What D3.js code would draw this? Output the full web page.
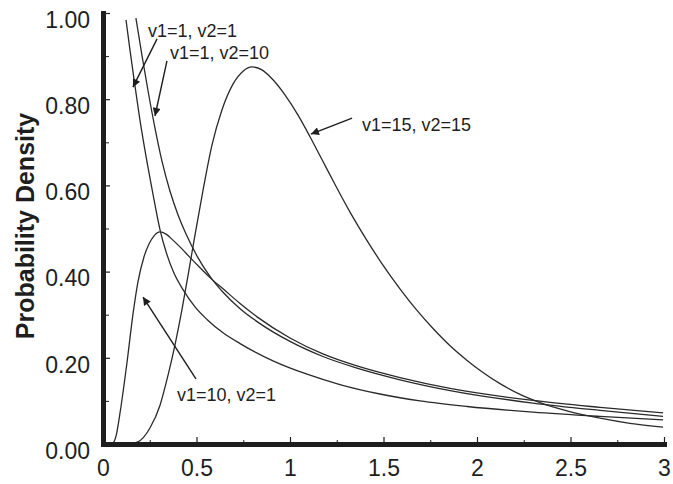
<!DOCTYPE html>
<html>
<head>
<meta charset="utf-8">
<script src="https://cdn.jsdelivr.net/npm/d3@7"></script>
<style>
  html, body { margin: 0; padding: 0; background: #fff; }
  svg { display: block; font-family: "Liberation Sans", Arial, Helvetica, sans-serif; }
</style>
</head>
<body>
<svg id="chart" width="673" height="484"></svg>
<script>
// ---- Data ----
const xTicks = [0, 0.5, 1, 1.5, 2, 2.5, 3];
const xMinorTicks = [0.25, 0.75, 1.25, 1.75, 2.25, 2.75];
const yTicks = [0, 0.2, 0.4, 0.6, 0.8, 1.0];
const yMinorTicks = [0.1, 0.3, 0.5, 0.7, 0.9];
const yTitle = "Probability Density";

// v1=1, v2=1
const seriesA_x = [0.123,0.144,0.166,0.193,0.225,0.262,0.305,0.340,0.380,0.428,0.492,0.556,0.642,0.733,0.909,1.091,1.267,1.481,1.695,1.947,2.299,2.658,2.995];
const seriesA_y = [0.984,0.915,0.846,0.765,0.680,0.592,0.497,0.442,0.396,0.358,0.318,0.289,0.258,0.233,0.193,0.162,0.138,0.116,0.100,0.087,0.074,0.064,0.056];
// v1=1, v2=10
const seriesB_x = [0.176,0.209,0.241,0.278,0.316,0.358,0.401,0.444,0.503,0.572,0.642,0.733,0.824,1.000,1.176,1.358,1.588,1.856,2.299,2.658,2.995];
const seriesB_y = [0.988,0.900,0.819,0.733,0.655,0.587,0.532,0.487,0.436,0.389,0.352,0.314,0.284,0.238,0.203,0.176,0.149,0.124,0.095,0.078,0.064];
// v1=10, v2=1
const seriesC_x = [0.053,0.070,0.091,0.128,0.160,0.187,0.219,0.246,0.273,0.305,0.337,0.374,0.417,0.465,0.519,0.572,0.642,0.733,0.824,1.000,1.176,1.358,1.588,1.856,2.299,2.658,2.995];
const seriesC_y = [0.000,0.019,0.072,0.188,0.300,0.376,0.434,0.464,0.483,0.492,0.487,0.473,0.455,0.433,0.409,0.386,0.360,0.326,0.295,0.246,0.209,0.181,0.154,0.129,0.101,0.085,0.072];
// v1=15, v2=15
const seriesD_x = [0.134,0.187,0.251,0.305,0.348,0.385,0.422,0.455,0.492,0.535,0.583,0.636,0.695,0.749,0.797,0.850,0.909,0.973,1.043,1.107,1.171,1.241,1.321,1.412,1.497,1.588,1.679,1.765,1.856,1.947,2.032,2.123,2.230,2.337,2.481,2.658,2.818,2.995];
const seriesD_y = [0.000,0.005,0.037,0.090,0.160,0.230,0.311,0.392,0.485,0.589,0.694,0.775,0.835,0.865,0.875,0.868,0.845,0.810,0.763,0.713,0.660,0.602,0.538,0.472,0.415,0.360,0.310,0.268,0.228,0.194,0.166,0.140,0.115,0.096,0.077,0.060,0.048,0.039];

const seriesNames = ["v1=1, v2=1", "v1=1, v2=10", "v1=10, v2=1", "v1=15, v2=15"];
// annotation anchors in data units: label start (x, baseline y), arrow tail, arrow tip
const labelX = [0.241, 0.358, 0.396, 1.385];
const labelY = [0.944, 0.893, 0.100, 0.726];
const arrowFromX = [0.289, 0.342, 0.497, 1.332];
const arrowFromY = [0.940, 0.889, 0.151, 0.756];
const arrowToX = [0.160, 0.278, 0.214, 1.112];
const arrowToY = [0.828, 0.761, 0.341, 0.719];

// ---- Drawing ----
const svg = d3.select("#chart");
const W = 673, H = 484;
svg.append("rect").attr("width", W).attr("height", H).attr("fill", "#fff");

const x = d3.scaleLinear().domain([0, 3]).range([103, 664]);
const y = d3.scaleLinear().domain([0, 1]).range([444, 13]);

const ink = "#1e1e1e";
const curveColor = "#2a2a2a";

// defs: arrowhead
svg.append("defs").append("marker")
  .attr("id", "arrow")
  .attr("viewBox", "0 0 10 10")
  .attr("refX", 10).attr("refY", 5)
  .attr("markerWidth", 13).attr("markerHeight", 8)
  .attr("markerUnits", "userSpaceOnUse")
  .attr("orient", "auto")
  .append("path").attr("d", "M0,0 L10,5 L0,10 Z").attr("fill", ink);

// clip curves to plot area
svg.append("clipPath").attr("id", "plotClip")
  .append("rect").attr("x", 103).attr("y", 10).attr("width", 565).attr("height", 434);

const line = d3.line()
  .x(d => x(d[0])).y(d => y(d[1]))
  .curve(d3.curveMonotoneX);

const series = [
  d3.zip(seriesA_x, seriesA_y),
  d3.zip(seriesB_x, seriesB_y),
  d3.zip(seriesC_x, seriesC_y),
  d3.zip(seriesD_x, seriesD_y)
];

svg.append("g").attr("clip-path", "url(#plotClip)")
  .selectAll("path").data(series).join("path")
  .attr("d", line)
  .attr("fill", "none")
  .attr("stroke", curveColor)
  .attr("stroke-width", 1.3);

// minor ticks
svg.append("g").attr("transform", "translate(0,444)")
  .call(d3.axisBottom(x).tickValues(xMinorTicks).tickSize(-4).tickFormat(""))
  .call(g => g.select(".domain").remove())
  .selectAll("line").attr("stroke", ink).attr("stroke-width", 1);
svg.append("g").attr("transform", "translate(103,0)")
  .call(d3.axisLeft(y).tickValues(yMinorTicks).tickSize(-6).tickFormat(""))
  .call(g => g.select(".domain").remove())
  .selectAll("line").attr("stroke", ink).attr("stroke-width", 1);

// major x axis
const xAxis = svg.append("g").attr("transform", "translate(0,444)")
  .call(d3.axisBottom(x).tickValues(xTicks).tickSize(-7).tickSizeOuter(0).tickPadding(16)
    .tickFormat(d3.format("")));
xAxis.select(".domain").attr("stroke", ink).attr("stroke-width", 5).attr("stroke-linecap", "square");
xAxis.selectAll(".tick line").attr("stroke", ink).attr("stroke-width", 1.2);
xAxis.selectAll("text").attr("font-size", 23).attr("fill", ink)
  .attr("font-family", "'Liberation Sans', Arial, sans-serif");

// major y axis
const yAxis = svg.append("g").attr("transform", "translate(103,0)")
  .call(d3.axisLeft(y).tickValues(yTicks).tickSize(-7).tickSizeOuter(0).tickPadding(13)
    .tickFormat(d3.format(".2f")));
yAxis.select(".domain").attr("stroke", ink).attr("stroke-width", 5).attr("stroke-linecap", "square");
yAxis.selectAll(".tick line").attr("stroke", ink).attr("stroke-width", 1.2);
yAxis.selectAll("text").attr("font-size", 23).attr("fill", ink).attr("dy", "0.62em")
  .attr("font-family", "'Liberation Sans', Arial, sans-serif");

// y title
svg.append("text")
  .attr("transform", "translate(34,226) rotate(-90)")
  .attr("text-anchor", "middle")
  .attr("font-size", 25).attr("font-weight", "bold").attr("fill", ink)
  .text(yTitle);

// annotations
const ann = svg.append("g");
seriesNames.forEach((name, i) => {
  ann.append("line")
    .attr("x1", x(arrowFromX[i])).attr("y1", y(arrowFromY[i]))
    .attr("x2", x(arrowToX[i])).attr("y2", y(arrowToY[i]))
    .attr("stroke", ink).attr("stroke-width", 1.4)
    .attr("marker-end", "url(#arrow)");
  ann.append("text")
    .attr("x", x(labelX[i])).attr("y", y(labelY[i]))
    .attr("font-size", 18).attr("fill", ink)
    .text(name);
});
</script>
</body>
</html>
